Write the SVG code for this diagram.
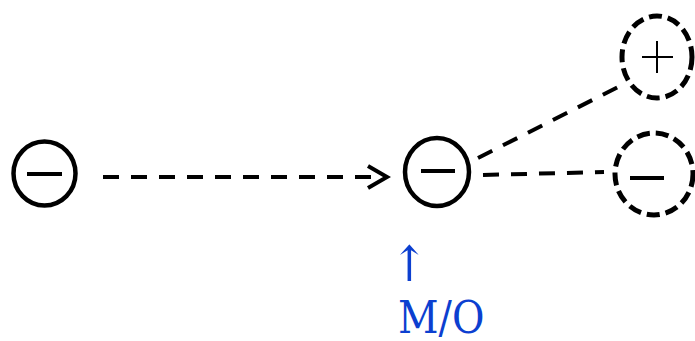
<svg xmlns="http://www.w3.org/2000/svg" width="695" height="341" viewBox="0 0 695 341">
<defs>
<style>
.node{fill:none;stroke:#000;stroke-width:4.5}
.dnode{fill:none;stroke:#000;stroke-width:5;stroke-dasharray:13 6}
.sign{stroke:#000;stroke-width:4;stroke-linecap:butt}
.thin{stroke:#000;stroke-width:2}
.conn{fill:none;stroke:#000;stroke-width:4;stroke-dasharray:16 12}
.lbl{font-family:"DejaVu Serif Condensed","DejaVu Serif",serif;font-stretch:condensed;fill:#0c3fd0;font-size:44px}
.arr{font-family:"DejaVu Serif Condensed","DejaVu Serif",serif;font-stretch:condensed;fill:#0c3fd0;font-size:49px}
</style>
</defs>
<g id="connectors">
<line class="conn" x1="103" y1="177" x2="386" y2="177"/>
<path d="M368,166 L387,177 L368,188" fill="none" stroke="#000" stroke-width="4"/>
<line class="conn" x1="478" y1="158" x2="620" y2="86"/>
<line class="conn" x1="483" y1="175" x2="604" y2="172"/>
</g>
<g id="n1">
<ellipse class="node" cx="44.5" cy="173.5" rx="31" ry="32"/>
<line class="sign" x1="27" y1="174" x2="62" y2="174"/>
</g>
<g id="n2">
<ellipse class="node" cx="437" cy="172" rx="32" ry="34"/>
<line class="sign" x1="421" y1="171" x2="455" y2="171"/>
</g>
<g id="n3">
<ellipse class="dnode" cx="657" cy="57" rx="35" ry="41"/>
<line class="thin" x1="642" y1="57" x2="673" y2="57"/>
<line class="thin" x1="657" y1="41" x2="657" y2="73"/>
</g>
<g id="n4">
<ellipse class="dnode" cx="654" cy="174" rx="39" ry="41"/>
<line class="sign" x1="630" y1="178" x2="664" y2="178"/>
</g>
<g id="label">
<text class="arr" x="391" y="281">↑</text>
<text class="lbl" x="398" y="333">M/O</text>
</g>
</svg>
